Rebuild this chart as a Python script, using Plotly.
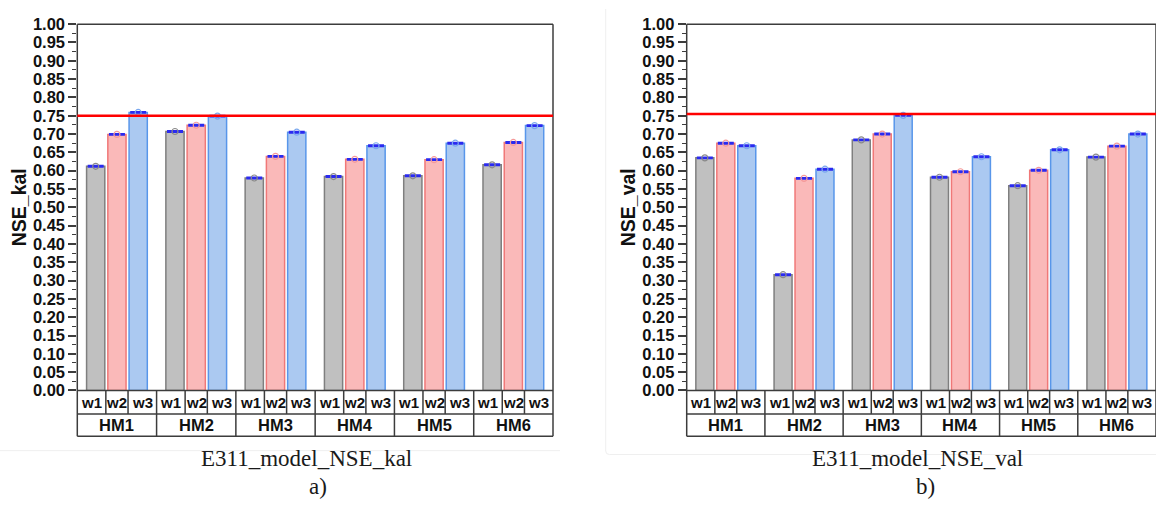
import plotly.graph_objects as go

W, H = 1156, 514

groups = ["HM1", "HM2", "HM3", "HM4", "HM5", "HM6"]
series = ["w1", "w2", "w3"]

kal_w1 = [0.612, 0.707, 0.580, 0.584, 0.586, 0.616]
kal_w2 = [0.699, 0.724, 0.639, 0.631, 0.630, 0.677]
kal_w3 = [0.759, 0.749, 0.705, 0.668, 0.675, 0.723]

val_w1 = [0.635, 0.316, 0.684, 0.582, 0.559, 0.637]
val_w2 = [0.675, 0.579, 0.700, 0.597, 0.601, 0.667]
val_w3 = [0.668, 0.604, 0.751, 0.638, 0.657, 0.700]

thr_kal = 0.75
thr_val = 0.755

y_titles = ["NSE_kal", "NSE_val"]
captions = ["E311_model_NSE_kal", "E311_model_NSE_val"]
letters = ["a)", "b)"]

fills = ["#c0c0c0", "#fab9b9", "#abc9f1"]
edges = ["#7f7f7f", "#f07878", "#5896ea"]
marks = ["#8a8a8a", "#f59a9a", "#7aa8ee"]
cap_col = "#2a2af0"

offsets = [-0.268, 0.0, 0.268]
bw = 0.23

def px(x):
    return x / W

def py(y):
    return 1 - y / H

Y_TOP, Y_BOT, Y_ROW1, Y_ROW2 = 15.7, 395.3, 419.6, 442.8

fig = go.Figure()

panels = [
    dict(xa="x", ya="y", dom=[px(77.3), px(553.0)], data=[kal_w1, kal_w2, kal_w3], thr=thr_kal,
         ytx=px(19), capx=px(306), letx=px(318)),
    dict(xa="x2", ya="y2", dom=[px(686.7), 1.0], data=[val_w1, val_w2, val_w3], thr=thr_val,
         ytx=px(628), capx=px(917), letx=px(925)),
]

shapes = []
annotations = []
line_col = "#3c3c3c"
BOLD = dict(family="Liberation Sans", color="#111", weight="bold")

for p_i, p in enumerate(panels):
    xa, ya = p["xa"], p["ya"]
    for s_i, vals in enumerate(p["data"]):
        xs = [g + offsets[s_i] for g in range(len(groups))]
        fig.add_trace(go.Bar(
            x=xs, y=vals, width=bw, xaxis=xa, yaxis=ya,
            marker=dict(color=fills[s_i], line=dict(color=edges[s_i], width=1.5)),
            error_y=dict(type="data", array=[0.0012] * len(vals), color=cap_col,
                         thickness=2, width=8),
            showlegend=False, name=series[s_i],
        ))
        fig.add_trace(go.Scatter(
            x=xs, y=vals, mode="markers", xaxis=xa, yaxis=ya,
            marker=dict(symbol="circle-open", size=6, color=marks[s_i], line=dict(width=1.2)),
            showlegend=False, cliponaxis=False,
        ))
    xd = xa + " domain"
    shapes.append(dict(type="line", xref=xd, yref="paper", x0=0, x1=1, y0=py(Y_TOP), y1=py(Y_TOP),
                       line=dict(color=line_col, width=1.5)))
    for yy in [Y_BOT, Y_ROW1, Y_ROW2]:
        shapes.append(dict(type="line", xref=xd, yref="paper", x0=0, x1=1, y0=py(yy), y1=py(yy),
                           line=dict(color=line_col, width=1.5)))
    for xx in [0, 1]:
        shapes.append(dict(type="line", xref=xd, yref="paper", x0=xx, x1=xx, y0=py(Y_TOP), y1=py(Y_ROW2),
                           line=dict(color=line_col, width=1.5)))
    n = len(groups)
    for g in range(1, n):
        xx = g / n
        shapes.append(dict(type="line", xref=xd, yref="paper", x0=xx, x1=xx, y0=py(Y_BOT), y1=py(Y_ROW2),
                           line=dict(color=line_col, width=1.5)))
    for g in range(n):
        for b in [-0.14, 0.14]:
            xx = (g + 0.5 + b) / n
            shapes.append(dict(type="line", xref=xd, yref="paper", x0=xx, x1=xx, y0=py(Y_BOT), y1=py(Y_ROW1),
                               line=dict(color=line_col, width=1.5)))
    shapes.append(dict(type="line", xref=xd, yref=ya, x0=0, x1=1, y0=p["thr"], y1=p["thr"],
                       line=dict(color="#ff0000", width=2.5), layer="above"))
    cells = [(-0.5, -0.14), (-0.14, 0.14), (0.14, 0.5)]
    for g in range(n):
        for s_i, (a, b) in enumerate(cells):
            annotations.append(dict(x=g + (a + b) / 2, y=py((Y_BOT + Y_ROW1) / 2), xref=xa, yref="paper",
                                    text=series[s_i], showarrow=False,
                                    font=dict(BOLD, size=15),
                                    xanchor="center", yanchor="middle"))
        annotations.append(dict(x=g, y=py((Y_ROW1 + Y_ROW2) / 2), xref=xa, yref="paper",
                                text=groups[g], showarrow=False,
                                font=dict(BOLD, size=16.5),
                                xanchor="center", yanchor="middle"))
    annotations.append(dict(x=p["ytx"], y=py((Y_TOP + Y_BOT) / 2), xref="paper", yref="paper",
                            text=y_titles[p_i], textangle=-90, showarrow=False,
                            font=dict(BOLD, size=19.5),
                            xanchor="center", yanchor="middle"))
    annotations.append(dict(x=p["capx"], y=py(466), xref="paper", yref="paper",
                            text=captions[p_i], showarrow=False,
                            font=dict(family="Liberation Serif", size=23, color="#1a1a1a"),
                            xanchor="center", yanchor="middle"))
    annotations.append(dict(x=p["letx"], y=py(495), xref="paper", yref="paper",
                            text=letters[p_i], showarrow=False,
                            font=dict(family="Liberation Serif", size=23, color="#1a1a1a"),
                            xanchor="center", yanchor="middle"))

shapes.append(dict(type="line", xref="paper", yref="paper", x0=0, x1=px(560), y0=py(457.7), y1=py(457.7),
                   line=dict(color="#efefef", width=1), layer="below"))
shapes.append(dict(type="path", xref="paper", yref="paper",
                   path=f"M {px(605.7)},{py(0)} L {px(605.7)},{py(458)} Q {px(605.7)},{py(461.7)} {px(609.5)},{py(461.7)} L 1,{py(461.7)}",
                   line=dict(color="#efefef", width=1), layer="below"))

axis_common_y = dict(
    range=[0, 1], dtick=0.05, tick0=0, tickformat=".2f",
    ticks="outside", ticklen=8, tickwidth=1.5, tickcolor=line_col,
    minor=dict(dtick=0.025, ticks="outside", ticklen=4, tickwidth=1.2, tickcolor=line_col),
    showgrid=False, zeroline=False, showline=False,
    tickfont=dict(BOLD, size=16.5),
    domain=[py(Y_BOT), py(Y_TOP)],
)
axis_common_x = dict(range=[-0.5, 5.5], showgrid=False, zeroline=False, showline=False,
                     showticklabels=False, ticks="")

fig.update_layout(
    width=W, height=H, autosize=False,
    margin=dict(l=0, r=0, t=0, b=0),
    paper_bgcolor="white", plot_bgcolor="white",
    barmode="overlay",
    xaxis=dict(axis_common_x, domain=panels[0]["dom"], anchor="y"),
    yaxis=dict(axis_common_y, anchor="x"),
    xaxis2=dict(axis_common_x, domain=panels[1]["dom"], anchor="y2"),
    yaxis2=dict(axis_common_y, anchor="x2"),
    shapes=shapes, annotations=annotations,
    showlegend=False,
)

fig.write_html("out.html")
